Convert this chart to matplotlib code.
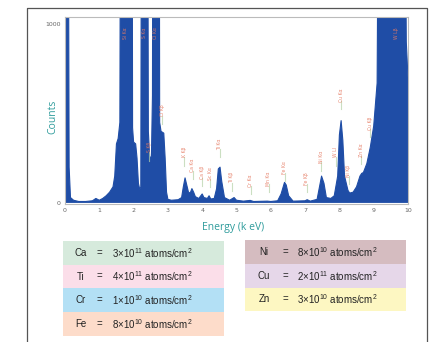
import numpy as np
import matplotlib.pyplot as plt
from matplotlib.lines import Line2D
from matplotlib.patches import Rectangle

# spectrum (energy in keV, counts); tall peaks run off the top
energy = [0.00, 0.08, 0.12, 0.16, 0.25, 0.40, 0.60, 0.80, 0.90, 0.95, 1.00, 1.10,
          1.20, 1.30, 1.40, 1.45, 1.50, 1.55, 1.60, 1.63, 1.95, 1.97, 2.00, 2.06,
          2.10, 2.14, 2.18, 2.21, 2.24, 2.40, 2.43, 2.47, 2.52, 2.55, 2.57, 2.74,
          2.76, 2.80, 2.88, 2.92, 2.96, 3.00, 3.10, 3.30, 3.40, 3.45, 3.50, 3.55,
          3.60, 3.65, 3.70, 3.75, 3.80, 3.90, 4.00, 4.05, 4.15, 4.20, 4.25, 4.35,
          4.42, 4.47, 4.52, 4.57, 4.65, 4.80, 4.93, 5.00, 5.20, 5.40, 5.50, 5.90,
          6.00, 6.20, 6.30, 6.40, 6.45, 6.52, 6.65, 7.00, 7.06, 7.15, 7.35, 7.42,
          7.48, 7.55, 7.62, 7.75, 7.85, 7.95, 8.00, 8.05, 8.10, 8.15, 8.25, 8.30,
          8.40, 8.50, 8.60, 8.65, 8.70, 8.80, 8.90, 9.00, 9.10, 9.17, 9.88, 9.95,
          10.00]
counts = [3000, 3000, 200, 30, 15, 8, 8, 12, 25, 20, 15, 25,
          40, 60, 90, 150, 330, 360, 450, 3000, 3000, 420, 340, 330,
          250, 110, 75, 90, 3000, 3000, 400, 250, 260, 600, 3000, 3000,
          450, 400, 390, 250, 60, 20, 15, 18, 30, 90, 140, 100,
          60, 55, 80, 60, 35, 25, 50, 30, 25, 40, 22, 25,
          80, 190, 200, 120, 30, 15, 30, 15, 10, 14, 8, 10,
          8, 12, 50, 115, 100, 40, 10, 12, 18, 10, 20, 90,
          150, 110, 30, 25, 40, 150, 380, 460, 350, 150, 70, 55,
          60, 90, 150, 165, 170, 220, 310, 430, 670, 3000, 3000, 900,
          700]

# peak labels (position keV, label centre in counts, text)
peak_e = [1.75, 2.33, 2.63, 2.46, 2.84, 3.48, 3.72, 4.00, 4.23, 4.52, 4.86,
          5.42, 5.94, 6.40, 7.05, 7.47, 7.90, 8.05, 8.27, 8.64, 8.90, 9.66]
peak_y = [948, 950, 950, 312, 518, 284, 209, 172, 163, 330, 144,
          125, 135, 200, 135, 256, 284, 600, 181, 293, 443, 948]
peak_txt = ['Si Kα', 'S Kα', 'Cl Kα', 'S Kβ', 'Cl Kβ', 'K Kβ', 'Ca Kα', 'Ca Kβ',
            'Sc Kα', 'Ti Kα', 'Ti Kβ', 'Cr Kα', 'Mn Kα', 'Fe Kα', 'Fe Kβ',
            'Ni Kα', 'W Ll', 'Cu Kα', 'Ni Kβ', 'Zn Kα', 'Cu Kβ', 'W Lβ']

# concentration table
left_el = ['Ca', 'Ti', 'Cr', 'Fe']
left_val = ['3', '4', '1', '8']
left_exp = ['11', '11', '10', '10']
left_col = ['#d6eadc', '#fbdee9', '#b3e0f5', '#fddcca']
right_el = ['Ni', 'Cu', 'Zn']
right_val = ['8', '2', '3']
right_exp = ['10', '11', '10']
right_col = ['#d5bcc0', '#e6d7e9', '#fdf7c2']

plt.rcParams['mathtext.fontset'] = 'custom'
plt.rcParams['mathtext.rm'] = 'Liberation Sans'
plt.rcParams['mathtext.it'] = 'Liberation Sans'

W, H = 439, 342
fig = plt.figure(figsize=(W / 100, H / 100), dpi=100)
blue = '#1f4da6'
teal = '#2f9c9c'

ax = fig.add_axes([65 / W, 1 - 204 / H, 343 / W, 187 / H])
ax.fill_between(energy, counts, 0, color=blue, lw=0)
ax.plot(energy, counts, color=blue, lw=0.8)
ax.set_xlim(0, 10)
ax.set_ylim(-6, 1039)
ax.set_xticks(range(11))
ax.set_yticks([0, 1000])
ax.tick_params(length=0, labelsize=4.5, labelcolor='#666666', pad=3)
for s in ax.spines.values():
    s.set_color('#bbbbbb')
    s.set_linewidth(0.8)
ax.set_xlabel('Energy (k eV)', color=teal, fontsize=7.5, family='Open Sans')
ax.set_ylabel('Counts', color=teal, fontsize=7.5, family='Open Sans')
ax.xaxis.set_label_coords(0.49, -0.095)
ax.yaxis.set_label_coords(-0.02, 0.465)

for e, y, t in zip(peak_e, peak_y, peak_txt):
    if y < 900:
        ax.plot([e, e], [y - 75, y - 30], color='#b5d2a8', lw=0.8, alpha=0.7)
    ax.text(e, y, t, rotation=90, ha='center', va='center', fontsize=3.3,
            color='#e57a62', alpha=0.9)

# outer frame (left, top, right)
fig.add_artist(Line2D([27 / W, 27 / W, 427 / W, 427 / W], [0, 1 - 8 / H, 1 - 8 / H, 0],
                      transform=fig.transFigure, color='#555555', lw=0.9))


def table(x0, x1, y0, rh, els, vals, exps, cols, xe, xq, xv):
    for i, (el, v, ex, c) in enumerate(zip(els, vals, exps, cols)):
        top = y0 + i * rh
        fig.add_artist(Rectangle((x0 / W, 1 - (top + rh) / H), (x1 - x0) / W, rh / H,
                                 transform=fig.transFigure, color=c, lw=0))
        yc = 1 - (top + rh / 2) / H
        kw = dict(transform=fig.transFigure, va='center', fontsize=7,
                  family='Liberation Sans', color='#222222')
        fig.text(xe / W, yc, el, ha='center', **kw)
        fig.text(xq / W, yc, '=', ha='center', **kw)
        fig.text(xv / W, yc, r'%s$\times$10$^{%s}$ atoms/cm$^2$' % (v, ex), ha='left', **kw)


table(63, 224, 241, 23.7, left_el, left_val, left_exp, left_col, 81, 99, 112)
table(245, 406, 240, 23.8, right_el, right_val, right_exp, right_col, 264, 285, 297)

fig.savefig('out.png', dpi=100)
